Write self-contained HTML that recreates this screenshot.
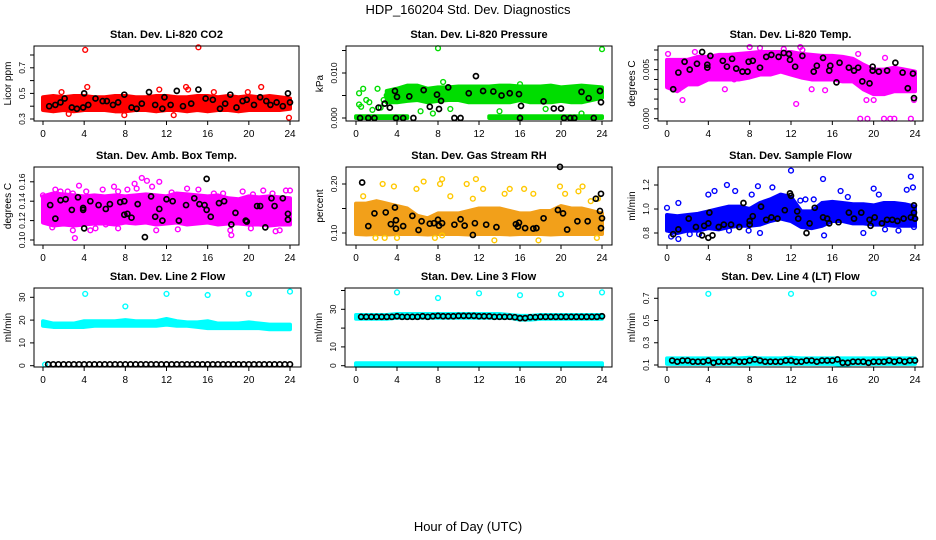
<!DOCTYPE html>
<html><head><meta charset="utf-8"><style>
html,body{margin:0;padding:0;background:#fff;}
svg{display:block;font-family:"Liberation Sans",Arial,sans-serif;}
</style></head><body>
<svg id="chart" width="936" height="540" viewBox="0 0 936 540" xmlns="http://www.w3.org/2000/svg">
<rect x="0" y="0" width="936" height="540" fill="#fff"/>
<text x="468" y="14" text-anchor="middle" font-size="13">HDP_160204  Std. Dev. Diagnostics</text>
<text x="468" y="531" text-anchor="middle" font-size="13">Hour of Day (UTC)</text>
</svg>
<script>
const hours = [0,1,2,3,4,5,6,7,8,9,10,11,12,13,14,15,16,17,18,19,20,21,22,23,24];
const xTicks = [0,4,8,12,16,20,24];
const N = NaN;
// Panel 1 CO2
const lo1=[0.37,0.36,0.37,0.36,0.37,0.37,0.37,0.36,0.36,0.37,0.37,0.36,0.37,0.37,0.36,0.37,0.36,0.37,0.37,0.36,0.37,0.37,0.37,0.37,0.38];
const hi1=[0.47,0.48,0.47,0.48,0.48,0.47,0.47,0.48,0.48,0.47,0.47,0.48,0.48,0.47,0.47,0.48,0.48,0.47,0.48,0.47,0.48,0.47,0.48,0.47,0.46];
const ox1=[4.1,15.1,4.3,13.9,21.2,23.9,12.7,7.9,1.8,11.3,19.9,2.5,16.6,14.1];
const oy1=[0.84,0.86,0.55,0.55,0.55,0.31,0.33,0.33,0.51,0.53,0.51,0.34,0.51,0.53];
const bx1=[0.6,1.2,1.7,2.1,2.8,3.3,3.9,4.0,4.4,5.1,5.8,6.2,6.8,7.3,7.9,8.6,9.1,9.6,10.3,10.9,11.6,11.8,12.4,13.0,13.6,14.4,15.1,15.8,16.5,17.2,17.7,18.2,18.8,19.4,19.8,20.5,21.1,21.7,22.1,22.7,23.3,23.8,24];
const by1=[0.40,0.41,0.43,0.46,0.39,0.38,0.39,0.50,0.41,0.46,0.44,0.44,0.41,0.43,0.49,0.39,0.38,0.42,0.51,0.41,0.38,0.47,0.41,0.52,0.40,0.42,0.53,0.46,0.45,0.38,0.42,0.49,0.39,0.44,0.45,0.41,0.47,0.44,0.41,0.43,0.40,0.50,0.43];
// Panel 2 pressure (x0.001 kPa)
const lo2=[N,N,N,3.5,3.5,3.8,4,3.5,3.8,4,4,3.5,3.5,3.5,3.5,3.5,4,3.5,3.5,3.5,3.8,3.5,3.5,4,4.5];
const hi2=[N,N,N,6,6.5,7.2,7.2,6.5,6.8,6.8,7,7,7,7,7.2,7.2,7,7,7,7.2,6.8,7,7.2,7,6.8];
const zlo2=[0,0,0,0,0,0,N,N,N,N,N,N,N,0,0,0,0,0,0,0,0,0,0,0,0];
const zhi2=[0.4,0.4,0.4,0.4,0.4,0.4,N,N,N,N,N,N,N,0.4,0.4,0.4,0.4,0.4,0.4,0.4,0.4,0.4,0.4,0.4,0.4];
const ox2=[8,24,0.3,0.7,0.3,0.5,1,1.3,1.6,2.1,2.7,3,2.4,6.3,9.2,7.5,16,10.5,14,18.5,22,8.5,16];
const oy2=[15.5,15.3,5.5,6.5,3,2.5,4,3.5,1.8,6.5,4,5,2.3,1.5,2,1,0.2,5,1.5,2,1,8,7.5];
const bx2=[0.4,1.2,1.8,2.2,2.8,3.3,3.8,3.9,4,4.6,5.2,5.6,6.6,7.2,7.9,8.3,8.1,9,9.6,10.2,11,11.7,12.4,13.4,14.2,15,15.9,16.1,16,18.3,19.3,20,20.3,20.9,21.3,22,22.7,23.2,23.8,23.9];
const by2=[0,0,0,2.3,3.2,2.3,6,0,4.7,0,4.8,0,6.2,2.5,5.2,3.8,2,6.8,0,0,5.5,9.3,6,5.9,5,5.5,5.3,2.7,0,3.7,2.1,2.1,0,0,0,5.8,4.4,0,6,3.5];
// Panel 3 Li-820 temp (x0.001 C)
const lo3=[3.2,2.8,3.5,3.5,4,4,4,4,4.2,4.5,4.5,4.8,4.5,4.2,4,4,4,3.8,3.8,3,2.5,2.5,2.8,2.8,2.8];
const hi3=[6,6,6,6.3,6.3,6.5,6.5,6.6,6.7,6.8,6.8,6.8,6.8,6.6,6.5,6.4,6.4,6.3,6.1,5.5,5,5,5.2,5,4.8];
const ox3=[0.1,1.5,2.7,3,8,9,12.9,11.3,13.1,18.5,19.3,20,18.7,19.4,21,21.6,22,23.6,21.1,23.9,5.6,6.5,14,15.3,12.5];
const oy3=[6.6,1.9,6.8,6.2,7.3,7.2,7.3,7.1,7.0,6.6,1.9,1.9,0,0,0,0,0,0,6.2,1.9,3,4,3,2.9,1.5];
const bx3=[0.6,1.1,1.7,2.2,2.9,3.4,3.9,3.9,4.2,5.4,5.8,6.3,6.7,7.3,7.8,7.9,8.3,9.0,9.6,10.1,10.8,11.3,11.8,11.9,12.4,13.1,14.2,14.5,15.1,15.7,15.8,16.4,16.7,17.6,18.1,18.5,18.9,19.6,19.9,19.9,20.5,21.3,22.1,22.8,23.3,23.8,23.9];
const by3=[3,4.7,5.8,5,5.6,6.8,5.2,5.5,6.4,5.9,5.3,6.1,5.1,4.8,4.8,5.8,5.9,5.2,6.3,6.5,6.3,6.7,6.6,6.0,5.3,6.4,4.8,5.4,6.2,4.9,5.4,3.7,5.7,5.2,4.9,5.2,3.8,3.6,5.3,4.9,4.8,4.9,5.7,4.7,3.1,4.6,2.1];
// Panel 4 amb box temp
const lo4=[0.118,0.115,0.116,0.115,0.116,0.117,0.117,0.116,0.118,0.117,0.118,0.116,0.117,0.118,0.116,0.117,0.118,0.116,0.117,0.117,0.116,0.116,0.115,0.116,0.116];
const hi4=[0.145,0.148,0.147,0.146,0.145,0.146,0.145,0.146,0.145,0.146,0.147,0.146,0.145,0.148,0.147,0.146,0.145,0.146,0.143,0.142,0.145,0.144,0.145,0.144,0.143];
const ox4=[0,1.2,1.7,2.4,2.9,3.5,3.1,2.9,4.2,5.8,6.9,7.3,8.2,9.1,10.1,10.6,9.6,11.0,11.3,14.0,13.1,15.1,16.6,17.5,18.3,19.4,20.4,21.4,22.3,22.6,23.6,24,0.9,5.1,7.3,18.2,6.1,12.5,8.9,4.6,20.2,23];
const oy4=[0.146,0.152,0.150,0.150,0.148,0.156,0.102,0.11,0.150,0.152,0.155,0.150,0.152,0.153,0.161,0.155,0.164,0.110,0.160,0.153,0.111,0.152,0.148,0.148,0.105,0.150,0.147,0.151,0.148,0.109,0.151,0.151,0.113,0.112,0.112,0.110,0.116,0.149,0.158,0.110,0.112,0.11];
const bx4=[0.7,1.2,1.7,2.2,2.8,3.4,3.9,3.9,4.0,4.6,5.4,6.1,6.5,7.5,7.9,7.9,8.2,8.6,9.2,9.9,10.5,10.9,11.3,11.6,12.0,12.6,13.2,13.9,14.7,15.2,15.7,15.9,15.9,16.3,17.1,17.6,18.3,18.7,19.7,19.8,20.8,21.1,21.6,22.2,22.5,23.3,23.8,23.8];
const by4=[0.136,0.122,0.141,0.142,0.131,0.144,0.133,0.131,0.112,0.140,0.136,0.132,0.137,0.139,0.126,0.140,0.127,0.123,0.137,0.103,0.145,0.124,0.132,0.120,0.142,0.140,0.120,0.136,0.143,0.137,0.136,0.131,0.163,0.124,0.138,0.140,0.116,0.128,0.120,0.119,0.135,0.135,0.113,0.143,0.135,0.143,0.127,0.121];
// Panel 5 gas stream RH
const lo5=[0.098,0.097,0.098,0.097,0.098,0.098,0.098,0.097,0.098,0.098,0.098,0.097,0.098,0.098,0.098,0.097,0.098,0.098,0.098,0.097,0.098,0.098,0.098,0.098,0.098];
const hi5=[0.16,0.16,0.165,0.16,0.155,0.15,0.135,0.13,0.14,0.14,0.14,0.145,0.15,0.15,0.15,0.145,0.14,0.14,0.145,0.145,0.155,0.15,0.15,0.145,0.14];
const ox5=[0.7,2.6,2.8,3.7,4,5.9,6.6,8.2,8.4,9.2,8.4,10.8,11.4,11.7,12.4,14.5,15,16.4,17.3,19.9,20.4,21.7,22.1,22.9,23.6,1.9,7.7,13.5,17.8,23.5];
const oy5=[0.175,0.2,0.09,0.195,0.09,0.19,0.205,0.2,0.21,0.175,0.095,0.2,0.17,0.21,0.19,0.18,0.19,0.19,0.18,0.195,0.18,0.185,0.195,0.165,0.17,0.09,0.09,0.085,0.085,0.09];
const bx5=[0.6,1.2,1.8,2.9,3.4,3.8,3.9,3.9,4.6,5.5,6.1,6.4,7.2,7.6,8.0,8.1,8.4,9.6,10.2,10.6,11.4,11.6,12.7,13.7,15.6,15.9,15.8,16.5,17.3,17.6,18.3,19.7,19.9,20.2,20.6,21.6,22.6,23.4,23.9,23.8,24,23.9];
const by5=[0.203,0.114,0.14,0.142,0.118,0.152,0.126,0.109,0.114,0.135,0.106,0.124,0.119,0.12,0.127,0.115,0.12,0.117,0.128,0.115,0.096,0.12,0.117,0.112,0.118,0.121,0.113,0.11,0.109,0.11,0.13,0.147,0.235,0.14,0.107,0.124,0.124,0.17,0.18,0.145,0.13,0.11];
// Panel 6 sample flow
const lo6=[0.82,0.80,0.82,0.82,0.84,0.83,0.85,0.86,0.86,0.87,0.9,0.92,0.9,0.85,0.84,0.86,0.9,0.9,0.88,0.88,0.87,0.87,0.86,0.86,0.86];
const hi6=[0.95,0.94,0.95,0.96,0.98,1.0,1.02,1.02,1.0,1.05,1.08,1.12,1.1,0.98,0.98,1.05,1.06,1.05,1.04,1.04,1.03,1.05,1.05,1.04,1.02];
const ox6=[0,0.4,1.1,1.1,4,4.6,5.8,6.6,8.2,8.8,9,10.2,12,12.9,13.4,14.2,15.1,15.2,16.8,17.5,19,20,20.5,21.1,22.4,23.2,23.6,23.8,23.9,3.1,2.2,6,7.9];
const oy6=[1.01,0.77,0.75,1.05,1.12,1.15,1.2,1.15,1.12,1.19,0.8,1.18,1.32,1.07,1.08,1.08,1.25,0.78,1.15,1.1,0.8,1.17,1.12,0.83,0.82,1.16,1.27,1.18,0.85,0.79,0.79,0.82,0.82];
const bx6=[0.6,1.1,2.1,2.8,3.4,3.6,4.1,4.0,4.0,4.4,5.0,5.5,6.2,7.0,7.4,8.0,8.0,8.3,9.1,9.6,10.1,10.7,11.4,11.9,12.0,12.6,12.7,13.5,13.8,14.3,15.1,15.5,15.7,16.6,17.6,18.1,18.8,19.6,19.7,20.1,20.8,21.3,21.8,22.3,22.9,23.6,23.9,23.9,24];
const by6=[0.79,0.83,0.92,0.85,0.78,0.86,0.97,0.88,0.76,0.78,0.85,0.87,0.87,0.85,1.05,0.9,0.87,0.94,1.02,0.91,0.93,0.92,0.99,1.13,1.11,0.98,0.92,0.8,0.88,1.01,0.93,0.92,0.88,0.89,0.97,0.92,0.97,0.91,0.86,0.93,0.88,0.91,0.91,0.9,0.92,0.93,1.03,0.97,0.92];
// Panels 7-9 line flows: black points every half hour
const halfHours=[0.5,1,1.5,2,2.5,3,3.5,4,4.5,5,5.5,6,6.5,7,7.5,8,8.5,9,9.5,10,10.5,11,11.5,12,12.5,13,13.5,14,14.5,15,15.5,16,16.5,17,17.5,18,18.5,19,19.5,20,20.5,21,21.5,22,22.5,23,23.5,24];
const lo7=[17.5,17,17,17,17,17.5,17.5,17.5,17.5,17.5,17.5,17.5,18,17.5,17.5,17,16.5,16.5,16.5,16.5,16.5,16.5,16,16,16];
const hi7=[19.5,18.5,18.5,18.5,19.5,19.5,19.5,19.5,20,19.5,19.5,19.5,20.5,19.5,19,19,19.5,18.5,18.5,18.5,19,18.5,18,18,18];
const ox7=[4.1,12,16,20,24,8,0.2];
const oy7=[31.5,31.5,31,31.5,32.5,26,0.5];
const by7=[0.6,0.6,0.6,0.6,0.6,0.6,0.6,0.6,0.6,0.6,0.6,0.6,0.6,0.6,0.6,0.6,0.6,0.6,0.6,0.6,0.6,0.6,0.6,0.6,0.6,0.6,0.6,0.6,0.6,0.6,0.6,0.6,0.6,0.6,0.6,0.6,0.6,0.6,0.6,0.6,0.6,0.6,0.6,0.6,0.6,0.6,0.6,0.6];
const lo8=[25,25,25,25,25.5,25.5,25.5,25.5,25.5,25.5,25.5,25.5,25.5,25.5,25.5,25.5,24.5,24.5,25,25,25,25,25,25,25];
const hi8=[27,27,27,27,27.5,27.5,27.5,27.5,27.5,27.5,27.5,27.5,27.5,27.5,27.5,27,26.5,26.5,27,27,27,27,27,27,27];
const zlo8=[0,0,0,0,0,0,0,0,0,0,0,0,0,0,0,0,0,0,0,0,0,0,0,0,0];
const zhi8=[1.3,1.3,1.3,1.3,1.3,1.3,1.3,1.3,1.3,1.3,1.3,1.3,1.3,1.3,1.3,1.3,1.3,1.3,1.3,1.3,1.3,1.3,1.3,1.3,1.3];
const ox8=[4,12,16,20,24,8];
const oy8=[39,38.5,37.5,38,39,36];
const by8=[26,26,26,26,26,26,26,26.3,26,26,26,26,26.3,26,26.3,26.5,26.3,26.3,26.3,26.5,26.5,26.5,26.5,26.3,26.3,26.3,26,26,26,26,25.8,25.3,25.3,25.8,25.8,26,26,26,26,26,26,26,26,26,26,26,26,26.3];
const lo9=[0.11,0.11,0.11,0.11,0.11,0.11,0.11,0.11,0.11,0.11,0.11,0.11,0.11,0.11,0.11,0.11,0.11,0.1,0.11,0.11,0.11,0.11,0.11,0.11,0.11];
const hi9=[0.16,0.16,0.16,0.16,0.16,0.16,0.16,0.16,0.165,0.16,0.16,0.16,0.165,0.16,0.16,0.16,0.16,0.16,0.16,0.16,0.16,0.16,0.16,0.16,0.16];
const ox9=[4,12,20];
const oy9=[0.74,0.74,0.745];
const by9=[0.14,0.13,0.14,0.14,0.13,0.13,0.13,0.14,0.12,0.13,0.13,0.13,0.14,0.13,0.13,0.14,0.15,0.14,0.13,0.13,0.13,0.13,0.14,0.14,0.13,0.13,0.14,0.14,0.13,0.14,0.14,0.14,0.15,0.12,0.12,0.13,0.13,0.13,0.12,0.13,0.13,0.13,0.14,0.13,0.14,0.13,0.14,0.14];

const panels=[
 {t:'Stan. Dev. Li-820 CO2',name:'co2',bx:34,by:46,bw:265,bh:75,x0:43,x24:290,v0:0.3,p0:119,v1:0.7,p1:67.8,yt:[0.3,0.4,0.5,0.6,0.7,0.8],yl:['0.3','','0.5','','0.7',''],ylab:'Licor ppm',col:'#ff0000',bands:[[lo1,hi1]],ox:ox1,oy:oy1,kx:bx1,ky:by1},
 {t:'Stan. Dev. Li-820 Pressure',name:'pressure',bx:346,by:46,bw:266,bh:75,x0:356,x24:602,v0:0,p0:118,v1:10,p1:73,yt:[0,5,10,15],yl:['0.000','','0.010',''],ylab:'kPa',col:'#00dd00',bands:[[lo2,hi2],[zlo2,zhi2]],ox:ox2,oy:oy2,kx:bx2,ky:by2},
 {t:'Stan. Dev. Li-820 Temp.',name:'li820-temp',bx:658,by:46,bw:265,bh:75,x0:667,x24:915,v0:0,p0:118.7,v1:7,p1:50,yt:[0,1,2,3,4,5,6,7],yl:['0.000','','','','','0.005','',''],ylab:'degrees C',col:'#ff00ff',bands:[[lo3,hi3]],ox:ox3,oy:oy3,kx:bx3,ky:by3},
 {t:'Stan. Dev. Amb. Box Temp.',name:'amb-box-temp',bx:34,by:167,bw:265,bh:78,x0:43,x24:290,v0:0.10,p0:240,v1:0.16,p1:181.8,yt:[0.10,0.12,0.14,0.16],yl:['0.10','0.12','0.14','0.16'],ylab:'degrees C',col:'#ff00ff',bands:[[lo4,hi4]],ox:ox4,oy:oy4,kx:bx4,ky:by4},
 {t:'Stan. Dev. Gas Stream RH',name:'gas-stream-rh',bx:346,by:167,bw:266,bh:78,x0:356,x24:602,v0:0.10,p0:233,v1:0.20,p1:184,yt:[0.10,0.15,0.20],yl:['0.10','','0.20'],ylab:'percent',col:'#f2a01a',ocol:'#ffc800',bands:[[lo5,hi5]],ox:ox5,oy:oy5,kx:bx5,ky:by5},
 {t:'Stan. Dev. Sample Flow',name:'sample-flow',bx:658,by:167,bw:265,bh:78,x0:667,x24:915,v0:0.8,p0:233,v1:1.2,p1:185,yt:[0.8,1.0,1.2],yl:['0.8','1.0','1.2'],ylab:'ml/min',col:'#0000ff',bands:[[lo6,hi6]],ox:ox6,oy:oy6,kx:bx6,ky:by6},
 {t:'Stan. Dev. Line 2 Flow',name:'line2-flow',bx:34,by:288,bw:267,bh:79,x0:43,x24:290,v0:0,p0:365.7,v1:30,p1:297.3,yt:[0,10,20,30],yl:['0','10','20','30'],ylab:'ml/min',col:'#00ffff',bands:[[lo7,hi7]],ox:ox7,oy:oy7,kx:halfHours,ky:by7},
 {t:'Stan. Dev. Line 3 Flow',name:'line3-flow',bx:345,by:288,bw:267,bh:79,x0:356,x24:602,v0:0,p0:365.7,v1:40,p1:290.5,yt:[0,10,20,30,40],yl:['0','10','','30',''],ylab:'ml/min',col:'#00ffff',bands:[[zlo8,zhi8],[lo8,hi8]],ox:ox8,oy:oy8,kx:halfHours,ky:by8},
 {t:'Stan. Dev. Line 4 (LT) Flow',name:'line4-flow',bx:658,by:288,bw:265,bh:79,x0:667,x24:915,v0:0.1,p0:365,v1:0.7,p1:298.3,yt:[0.1,0.3,0.5,0.7],yl:['0.1','0.3','0.5','0.7'],ylab:'ml/min',col:'#00ffff',bands:[[lo9,hi9]],ox:ox9,oy:oy9,kx:halfHours,ky:by9}
];
const NS='http://www.w3.org/2000/svg';
const svg=document.getElementById('chart');
function el(tag,parent){const e=document.createElementNS(NS,tag);parent.appendChild(e);return e;}
panels.forEach(function(p){
 const xs=function(h){return p.x0+(h/24)*(p.x24-p.x0);};
 const ys=function(v){return p.p0+(v-p.v0)*(p.p1-p.p0)/(p.v1-p.v0);};
 const g=el('g',svg);
 
 
 const tt=el('text',g);
 
 
 tt.setAttribute('x',p.bx+p.bw/2);tt.setAttribute('y',p.by-8);tt.setAttribute('text-anchor','middle');
 tt.setAttribute('font-size','11');tt.setAttribute('font-weight','bold');tt.textContent=p.t;
 const yl=el('text',g);
 
 
 const ly=p.by+p.bh/2;
 yl.setAttribute('transform','translate('+(p.bx-23)+','+ly+') rotate(-90)');
 yl.setAttribute('text-anchor','middle');yl.setAttribute('font-size','10');yl.textContent=p.ylab;
 // bands
 p.bands.forEach(function(b){
  const lo=b[0],hi=b[1];
  let seg=[];
  const segs=[];
  for(let i=0;i<hours.length;i++){
   if(isNaN(lo[i])||isNaN(hi[i])){if(seg.length)segs.push(seg);seg=[];}
   else seg.push(i);
  }
  if(seg.length)segs.push(seg);
  segs.forEach(function(s){
   let pts=[];
   s.forEach(function(i){pts.push(xs(hours[i])+','+ys(hi[i]));});
   s.slice().reverse().forEach(function(i){pts.push(xs(hours[i])+','+ys(lo[i]));});
   if(s.length===1){const i=s[0];pts=[ (xs(hours[i])-2)+','+ys(hi[i]),(xs(hours[i])+2)+','+ys(hi[i]),(xs(hours[i])+2)+','+ys(lo[i]),(xs(hours[i])-2)+','+ys(lo[i])];}
   const pg=el('polygon',g);
   
   
   pg.setAttribute('points',pts.join(' '));
   pg.setAttribute('fill',p.col);pg.setAttribute('stroke',p.col);pg.setAttribute('stroke-width','4');pg.setAttribute('stroke-linejoin','round');
  });
 });
 // outliers
 for(let i=0;i<Math.min(p.ox.length,p.oy.length);i++){
  const c=el('circle',g);
  
  
  c.setAttribute('cx',xs(p.ox[i]));c.setAttribute('cy',ys(p.oy[i]));c.setAttribute('r','2.4');
  c.setAttribute('fill','none');c.setAttribute('stroke',p.ocol||p.col);c.setAttribute('stroke-width','1.4');
 }
 // black points
 for(let i=0;i<Math.min(p.kx.length,p.ky.length);i++){
  const c=el('circle',g);
  
  
  c.setAttribute('cx',xs(p.kx[i]));c.setAttribute('cy',ys(p.ky[i]));c.setAttribute('r','2.5');
  c.setAttribute('fill','none');c.setAttribute('stroke','#000');c.setAttribute('stroke-width','1.7');
 }
 // box
 const r=el('rect',g);
 
 
 r.setAttribute('x',p.bx);r.setAttribute('y',p.by);r.setAttribute('width',p.bw);r.setAttribute('height',p.bh);
 r.setAttribute('fill','none');r.setAttribute('stroke','#000');r.setAttribute('stroke-width','1');
 // x axis
 const bot=p.by+p.bh;
 xTicks.forEach(function(h){
  const ln=el('line',g);
  
  
  ln.setAttribute('x1',xs(h));ln.setAttribute('x2',xs(h));ln.setAttribute('y1',bot);ln.setAttribute('y2',bot+4);ln.setAttribute('stroke','#000');
  const tx=el('text',g);
  
  
  tx.setAttribute('x',xs(h));tx.setAttribute('y',bot+16);tx.setAttribute('text-anchor','middle');tx.setAttribute('font-size','10');
  tx.textContent=String(h);
 });
 // y axis
 p.yt.forEach(function(v,i){
  const y=ys(v);
  const ln=el('line',g);
  
  
  ln.setAttribute('x1',p.bx-4);ln.setAttribute('x2',p.bx);ln.setAttribute('y1',y);ln.setAttribute('y2',y);ln.setAttribute('stroke','#000');
  if(p.yl[i]){
   const tx=el('text',g);
   
   
   tx.setAttribute('transform','translate('+(p.bx-9)+','+y+') rotate(-90)');
   tx.setAttribute('text-anchor','middle');tx.setAttribute('font-size','8.5');
   tx.textContent=p.yl[i];
  }
 });
});
</script>
</body></html>
